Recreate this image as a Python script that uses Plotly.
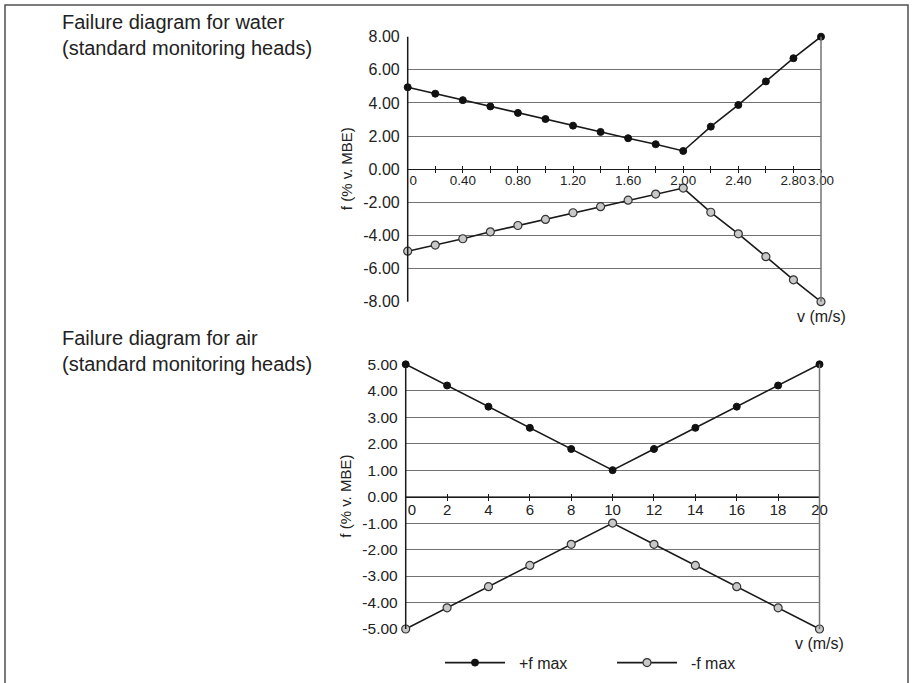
import plotly.graph_objects as go

# ---------------- data ----------------
water_v = [0.0, 0.2, 0.4, 0.6, 0.8, 1.0, 1.2, 1.4, 1.6, 1.8, 2.0, 2.2, 2.4, 2.6, 2.8, 3.0]
water_f_plus = [4.95, 4.56, 4.17, 3.79, 3.40, 3.03, 2.63, 2.25, 1.87, 1.51, 1.10, 2.57, 3.88, 5.30, 6.70, 8.00]
water_f_minus = [-4.95, -4.58, -4.20, -3.78, -3.40, -3.03, -2.63, -2.26, -1.87, -1.50, -1.14, -2.60, -3.90, -5.28, -6.68, -8.00]

air_v = [0, 2, 4, 6, 8, 10, 12, 14, 16, 18, 20]
air_f_plus = [5.0, 4.2, 3.4, 2.6, 1.8, 1.0, 1.8, 2.6, 3.4, 4.2, 5.0]
air_f_minus = [-5.0, -4.2, -3.4, -2.6, -1.8, -1.0, -1.8, -2.6, -3.4, -4.2, -5.0]

NB = "\u00a0"
water_x_ticks = [0.0, 0.2, 0.4, 0.6, 0.8, 1.0, 1.2, 1.4, 1.6, 1.8, 2.0, 2.2, 2.4, 2.6, 2.8, 3.0]
water_x_labels = [NB * 3 + "0", "", "0.40", "", "0.80", "", "1.20", "", "1.60", "",
                  "2.00", "", "2.40", "", "2.80", "3.00"]
water_y_ticks = [-8, -6, -4, -2, 0, 2, 4, 6, 8]
water_y_labels = ["-8.00", "-6.00", "-4.00", "-2.00", "0.00", "2.00", "4.00", "6.00", "8.00"]

air_x_ticks = [0, 2, 4, 6, 8, 10, 12, 14, 16, 18, 20]
air_x_labels = [NB * 3 + "0", "2", "4", "6", "8", "10", "12", "14", "16", "18", "20"]
air_y_ticks = [-5, -4, -3, -2, -1, 0, 1, 2, 3, 4, 5]
air_y_labels = ["-5.00", "-4.00", "-3.00", "-2.00", "-1.00", "0.00", "1.00", "2.00", "3.00", "4.00", "5.00"]

water_title = "Failure diagram for water<br>(standard monitoring heads)"
air_title = "Failure diagram for air<br>(standard monitoring heads)"
y_title = "f (% v. MBE)"
x_title = "v (m/s)"
series_names = ["+f max", "-f max"]

# ---------------- layout helpers ----------------
W, H = 915, 683
FONT = "Liberation Sans, Arial, Helvetica, sans-serif"
TXT = "#222222"
GRID = "#737373"
LINE = "#1a1a1a"


def px_x(p):
    return p / W


def px_y(p):
    return 1 - p / H


water_dom_x = [px_x(407.7), px_x(821.0)]
water_dom_y = [px_y(301.7), px_y(36.7)]
air_dom_x = [px_x(405.7), px_x(819.5)]
air_dom_y = [px_y(629.0), px_y(364.3)]

plus_marker = dict(symbol="circle", size=7, color="#111111", line=dict(color="#111111", width=1))
minus_marker = dict(symbol="circle", size=8, color="#c8c8c8", line=dict(color="#333333", width=1.2))
line_style = dict(color="#1a1a1a", width=1.6)

fig = go.Figure()

# water
fig.add_trace(go.Scatter(x=water_v, y=water_f_plus, mode="lines+markers", name=NB * 2 + series_names[0],
                         line=line_style, marker=plus_marker, xaxis="x", yaxis="y",
                         cliponaxis=False, legendgroup="p"))
fig.add_trace(go.Scatter(x=water_v, y=water_f_minus, mode="lines+markers", name=NB * 2 + series_names[1],
                         line=line_style, marker=minus_marker, xaxis="x", yaxis="y",
                         cliponaxis=False, legendgroup="m"))
# air
fig.add_trace(go.Scatter(x=air_v, y=air_f_plus, mode="lines+markers", name=series_names[0],
                         line=line_style, marker=plus_marker, xaxis="x2", yaxis="y2",
                         cliponaxis=False, showlegend=False, legendgroup="p"))
fig.add_trace(go.Scatter(x=air_v, y=air_f_minus, mode="lines+markers", name=series_names[1],
                         line=line_style, marker=minus_marker, xaxis="x2", yaxis="y2",
                         cliponaxis=False, showlegend=False, legendgroup="m"))
# helper traces for the inside half of the crossing ticks
fig.add_trace(go.Scatter(x=water_v, y=water_f_plus, mode="none", xaxis="x3", yaxis="y",
                         showlegend=False, hoverinfo="skip"))
fig.add_trace(go.Scatter(x=air_v, y=air_f_plus, mode="none", xaxis="x4", yaxis="y2",
                         showlegend=False, hoverinfo="skip"))


def xaxis_def(dom, rng, ticks, labels, pos, fsize, overlay=None, inside=False):
    d = dict(domain=dom, range=rng, anchor="free", position=pos,
             tickmode="array", tickvals=ticks, ticktext=labels, tickangle=0,
             showgrid=False, zeroline=False, automargin=False,
             tickfont=dict(family=FONT, size=fsize, color=TXT),
             ticklen=3, tickwidth=1.2, tickcolor=LINE, fixedrange=True)
    if inside:
        d.update(overlaying=overlay, ticks="inside", showticklabels=False, showline=False)
    else:
        d.update(ticks="outside", showline=True, linecolor=LINE, linewidth=1.3, ticklabelstandoff=-4)
    return d


def yaxis_def(dom, rng, ticks, labels, anchor, fsize):
    return dict(domain=dom, range=rng, anchor=anchor,
                tickmode="array", tickvals=ticks, ticktext=labels, automargin=False,
                showgrid=True, gridcolor=GRID, gridwidth=1.3, zeroline=False,
                showline=False, ticks="", ticklabelstandoff=7,
                tickfont=dict(family=FONT, size=fsize, color=TXT), fixedrange=True)


water_mid = (water_dom_y[0] + water_dom_y[1]) / 2
air_mid = (air_dom_y[0] + air_dom_y[1]) / 2

fig.update_layout(
    width=W, height=H,
    margin=dict(l=0, r=0, t=0, b=0, pad=0, autoexpand=False),
    paper_bgcolor="white", plot_bgcolor="white",
    font=dict(family=FONT, size=16, color=TXT),
    xaxis=xaxis_def(water_dom_x, [0, 3], water_x_ticks, water_x_labels, water_mid, 13.4),
    xaxis3=xaxis_def(water_dom_x, [0, 3], water_x_ticks, water_x_labels, water_mid, 13.4, overlay="x", inside=True),
    xaxis2=xaxis_def(air_dom_x, [0, 20], air_x_ticks, air_x_labels, air_mid, 15),
    xaxis4=xaxis_def(air_dom_x, [0, 20], air_x_ticks, air_x_labels, air_mid, 15, overlay="x2", inside=True),
    yaxis=yaxis_def(water_dom_y, [-8, 8], water_y_ticks, water_y_labels, "x", 16),
    yaxis2=yaxis_def(air_dom_y, [-5, 5], air_y_ticks, air_y_labels, "x2", 15.5),
    showlegend=True,
    legend=dict(orientation="h", x=px_x(440), xanchor="left", y=px_y(662.7), yanchor="middle",
                itemwidth=60, entrywidth=97, entrywidthmode="pixels",
                font=dict(family=FONT, size=16, color=TXT), bgcolor="rgba(0,0,0,0)",
                itemclick=False, itemdoubleclick=False),
    hovermode=False,
)

shapes = []
# left axis lines (black) and right borders (grey)
for xr, yr in (("x", "y"), ("x2", "y2")):
    shapes.append(dict(type="line", xref=f"{xr} domain", yref=f"{yr} domain", x0=0, x1=0, y0=0, y1=1,
                       line=dict(color=LINE, width=1.5)))
    shapes.append(dict(type="line", xref=f"{xr} domain", yref=f"{yr} domain", x0=1, x1=1, y0=0, y1=1,
                       line=dict(color=GRID, width=1.5)))
# outer frame
shapes.append(dict(type="rect", xref="paper", yref="paper", x0=px_x(5), x1=px_x(908), y0=-0.05, y1=px_y(5),
                   line=dict(color="#505050", width=1.5), fillcolor="rgba(0,0,0,0)", layer="below"))
fig.update_layout(shapes=shapes)

annotations = []
title_font = dict(family=FONT, size=20, color=TXT)
for text, ycen in ((water_title, 35.0), (air_title, 351.5)):
    annotations.append(dict(text=text, xref="paper", yref="paper", x=px_x(59.5), y=px_y(ycen),
                            xanchor="left", yanchor="middle", align="left", showarrow=False,
                            font=title_font))
# y titles
for ycen in ((36.7 + 301.7) / 2, (364.3 + 629.0) / 2):
    annotations.append(dict(text=y_title, xref="paper", yref="paper", x=px_x(346), y=px_y(ycen),
                            xanchor="center", yanchor="middle", textangle=-90, showarrow=False,
                            font=dict(family=FONT, size=15, color=TXT)))
# x titles
for xr, yr in (("x", "y"), ("x2", "y2")):
    annotations.append(dict(text=x_title, xref=f"{xr} domain", yref=f"{yr} domain", x=1, y=0,
                            xanchor="center", yanchor="top", yshift=-4, showarrow=False,
                            font=dict(family=FONT, size=16, color=TXT)))
fig.update_layout(annotations=annotations)

fig.write_html("out.html", config={"displayModeBar": False},
               post_script="document.body.style.margin='0';")
